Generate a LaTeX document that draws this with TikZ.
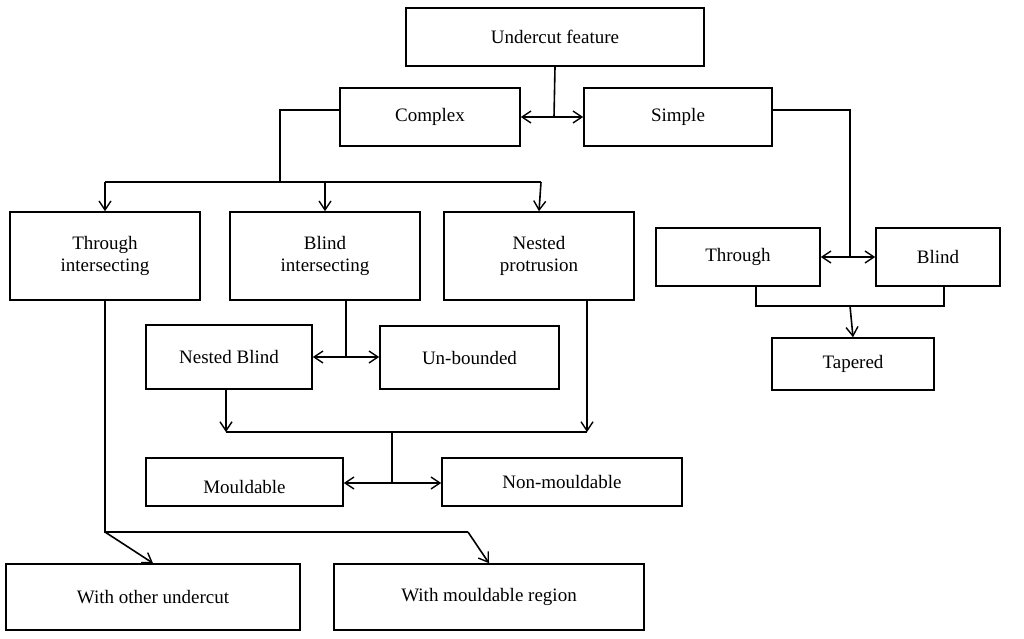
\documentclass[tikz,border=0pt]{standalone}
\usepackage{fontspec}
\setmainfont{Liberation Serif}
\usetikzlibrary{arrows.meta}
\begin{document}
\begin{tikzpicture}[x=1pt,y=-1pt,
  box/.style={draw,line width=1.6pt,inner sep=0pt,font=\fontsize{19}{22}\selectfont,align=center},
  ln/.style={line width=1.6pt},
  ar/.style={ln,-{Straight Barb[length=9pt,width=12pt,line width=1.4pt]}},
  dar/.style={ln,{Straight Barb[length=9pt,width=12pt,line width=1.4pt]}-{Straight Barb[length=9pt,width=12pt,line width=1.4pt]}}]
\useasboundingbox[fill=white] (0,0) rectangle (1024,638);
\newcommand{\bx}[6]{\node[box,minimum width=#4-#2,minimum height=#5-#3] (#1) at ({(#2+#4)/2},{(#3+#5)/2}) {#6};}
\bx{uf}{406}{8}{704}{66}{Undercut feature}
\bx{cx}{340}{88}{520}{146}{Complex}
\bx{sp}{584}{88}{772}{146}{Simple}
\bx{ti}{10}{212}{200}{300}{Through\\intersecting}
\bx{bi}{230}{212}{420}{300}{Blind\\intersecting}
\bx{np}{444}{212}{634}{300}{Nested\\protrusion}
\bx{th}{656}{228}{820}{286}{Through}
\bx{bl}{876}{228}{1000}{286}{Blind}
\bx{tp}{772}{338}{934}{390}{Tapered}
\bx{nb}{146}{325}{312}{389}{Nested Blind}
\bx{ub}{380}{326}{559}{389}{Un-bounded}
\node[box,minimum width=197,minimum height=48,text depth=0pt] (md) at (244.5,482) {\raisebox{-10pt}{Mouldable}};
\node[box,minimum width=240,minimum height=48] (nm) at (562,482) {\raisebox{-10pt}{Non-mouldable}};
\bx{wo}{6}{564}{300}{630}{With other undercut}
\bx{wm}{334}{564}{644}{630}{With mouldable region}
% top
\draw[ln] (uf.south) -- (554,117) coordinate (j1);
\draw[dar] (cx.east|-j1) -- (sp.west|-j1);
\draw[ln] (cx.west|-0,110) -| (280,182) coordinate (j2);
\draw[ln] (105,182) -- (541,182);
\draw[ar] (105,182) -- (ti.north);
\draw[ar] (bi.north|-j2) -- (bi.north);
\draw[ar] (541,182) -- (np.north);
% simple
\draw[ln] (sp.east|-0,110) -| (850,257) coordinate (j3);
\draw[dar] (th.east|-j3) -- (bl.west|-j3);
\draw[ln] (756,286) -- (756,306) -- (944,306) -- (944,286);
\draw[ar] (850,306) -- (tp.north);
% blind intersecting
\draw[ln] (346,300) -- (346,357) coordinate (j4);
\draw[dar] (nb.east|-j4) -- (ub.west|-j4);
\draw[ar] (226,389) -- (226,432);
\draw[ar] (587,300) -- (587,432);
\draw[ln] (226,432) -- (587,432);
\draw[ln] (392,432) -- (392,483) coordinate (j5);
\draw[dar] (md.east|-j5) -- (nm.west|-j5);
% through intersecting
\draw[ln] (105,300) -- (105,532) -- (468,532);
\draw[ar] (105,532) -- (wo.north);
\draw[ar] (468,532) -- (wm.north);
\end{tikzpicture}
\end{document}
